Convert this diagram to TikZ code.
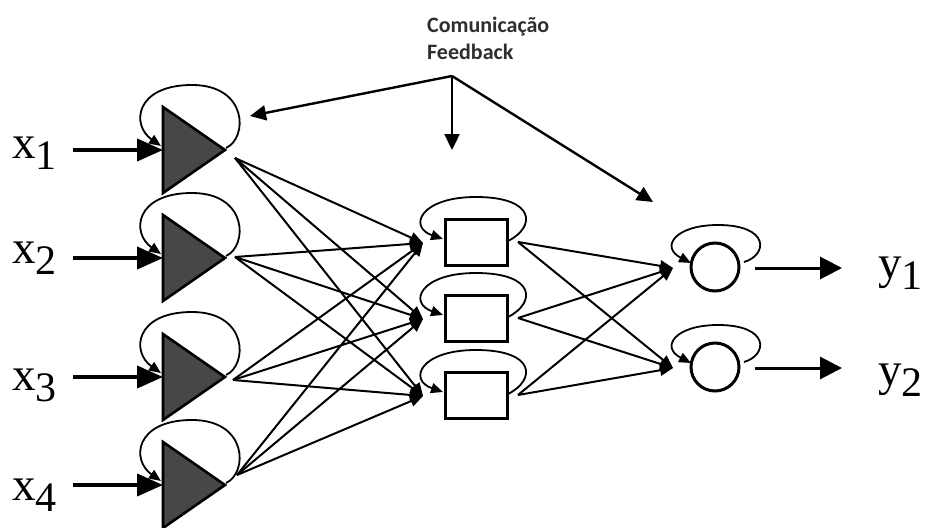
\documentclass[tikz,border=0pt]{standalone}
\usepackage{fontspec}
\setmainfont{Liberation Serif}
\newfontfamily\notefont{Carlito}
\usetikzlibrary{arrows.meta}
\newcommand\sublab[2]{#1\raisebox{-11pt}{\fontsize{42}{42}\selectfont #2}}
\begin{document}
\begin{tikzpicture}[x=1pt,y=-1pt,
  wire/.style={line width=2pt,-{Triangle[length=13pt,width=11pt]}},
  loopwire/.style={line width=1.8pt,-{Triangle[length=12pt,width=10pt]}},
  inwire/.style={line width=4pt,-{Triangle[length=26pt,width=22pt]}},
  outwire/.style={line width=3pt,-{Triangle[length=22pt,width=22pt]}},
  fbwire/.style={line width=2.4pt,-{Triangle[length=16pt,width=15pt]}},
  neuron/.style={draw,line width=2.6pt,line join=miter,fill=black!72},
  hidden/.style={draw,line width=3pt,minimum width=62pt,minimum height=46pt,inner sep=0pt},
  outunit/.style={draw,circle,line width=3pt,minimum size=48pt,inner sep=0pt},
  varlabel/.style={anchor=base west,inner sep=0pt,font=\fontsize{47}{47}\selectfont},
]
\useasboundingbox (0,0) rectangle (925,527);

% input layer: shaded triangles with self loops and input arrows
\foreach \i/\cy/\bl in {1/150/158,2/258/263,3/377/390,4/485/500}{
  \draw[neuron] (163,\cy-43) -- (225,\cy) -- (163,\cy+43) -- cycle;
  \coordinate (tip\i) at (226,\cy-2);
  \coordinate (in\i) at (163,\cy);
  \coordinate (xs\i) at (73,\cy);
  \coordinate (lpe\i) at (161,\cy-4);
  \node[varlabel] (x\i) at (12,\bl) {\sublab{x}{\i}};
  \draw[inwire] (xs\i) -- (in\i);
  \draw[loopwire] (tip\i) .. controls +(22,-10) and +(56,0) .. (192,\cy-65)
       .. controls +(-57,0) and +(-30,-21) .. (lpe\i);
}

% output points of the input units
\coordinate (o1) at (235,158);
\coordinate (o2) at (235,257);
\coordinate (o3) at (233,380);
\coordinate (o4) at (237,475);

% hidden layer: boxes with self loops
\foreach \j/\cy in {1/242,2/318,3/395}{
  \node[hidden] (h\j) at (476,\cy) {};
  \coordinate (hin\j) at (423,\cy+1);
  \coordinate (hout\j) at (518,\cy);
  \coordinate (hl\j) at (508,\cy-1);
  \coordinate (hle\j) at (443,\cy-3);
  \draw[loopwire] (hl\j) .. controls +(28,-14) and +(60,0) .. (476,\cy-45)
       .. controls +(-56,0) and +(-35,-12) .. (hle\j);
}

% output layer: circles with self loops and output arrows
\foreach \k/\cy/\bl in {1/267/278,2/367/385}{
  \node[outunit] (c\k) at (715,\cy) {};
  \coordinate (cin\k) at (673,\cy+1);
  \coordinate (cl\k) at (744,\cy-5);
  \coordinate (cle\k) at (691,\cy-4);
  \coordinate (cs\k) at (755,\cy+1);
  \coordinate (ce\k) at (842,\cy+1);
  \draw[loopwire] (cl\k) .. controls +(24,-7) and +(52,0) .. (718,\cy-42)
       .. controls +(-43,0) and +(-31,-16) .. (cle\k);
  \draw[outwire] (cs\k) -- (ce\k);
  \node[varlabel] (y\k) at (878,\bl) {\sublab{y}{\k}};
}

% full connections input -> hidden
\foreach \i in {1,...,4}{
  \foreach \j in {1,2,3}{
    \draw[wire] (o\i) -- (hin\j);
  }
}
% full connections hidden -> output
\foreach \j in {1,2,3}{
  \foreach \k in {1,2}{
    \draw[wire] (hout\j) -- (cin\k);
  }
}

% feedback annotation
\node[anchor=north west,inner sep=0pt,align=left,text=black!82,
      font=\notefont\bfseries\fontsize{22}{27}\selectfont] (note) at (427,17)
      {Comunicação\\Feedback};
\coordinate (fb) at (452,76);
\coordinate (fbl) at (250,116);
\coordinate (fbm) at (452,150);
\coordinate (fbr) at (653,202);
\draw[fbwire] (fb) -- (fbl);
\draw[fbwire] (fb) -- (fbm);
\draw[fbwire] (fb) -- (fbr);
\end{tikzpicture}
\end{document}
